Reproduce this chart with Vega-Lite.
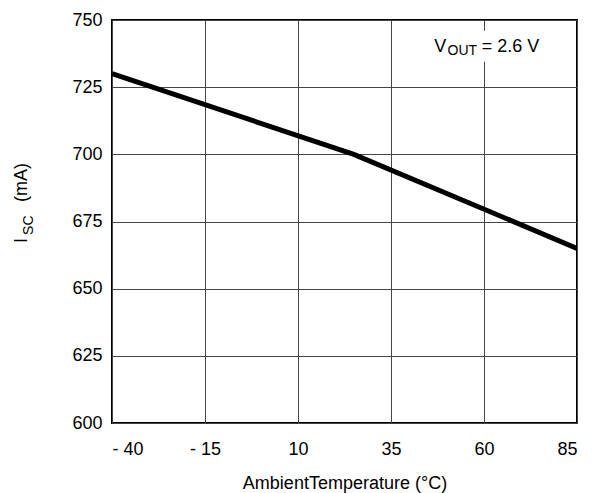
{
  "$schema": "https://vega.github.io/schema/vega-lite/v6.json",
  "autosize": "none",
  "width": 465,
  "height": 403,
  "padding": {"left": 112, "top": 20, "right": 23, "bottom": 70},
  "background": "white",
  "datasets": {
    "isc": [
      {"temp": -40, "isc": 730},
      {"temp": 25, "isc": 700},
      {"temp": 85, "isc": 665}
    ],
    "labelBox": [
      {"x1": 45, "x2": 75, "y1": 734.5, "y2": 746}
    ],
    "mainText": [
      {"temp": 46.6, "isc": 738.2, "text": "V"},
      {"temp": 59.4, "isc": 738.2, "text": "= 2.6 V"}
    ],
    "subText": [
      {"temp": 50.2, "isc": 737.0, "text": "OUT"}
    ],
    "yTitleMain": [
      {"temp": -62.85, "isc": 667.0, "text": "I"},
      {"temp": -62.85, "isc": 682.3, "text": "(mA)"}
    ],
    "yTitleSub": [
      {"temp": -61.24, "isc": 670.0, "text": "SC"}
    ]
  },
  "config": {
    "font": "Liberation Sans",
    "view": {"stroke": "black", "strokeWidth": 2},
    "axis": {
      "domain": false,
      "ticks": false,
      "grid": true,
      "gridColor": "#444444",
      "gridWidth": 1,
      "gridOpacity": 1,
      "labelFont": "Liberation Sans",
      "labelFontSize": 18,
      "labelColor": "black",
      "titleFont": "Liberation Sans",
      "titleFontSize": 18,
      "titleFontWeight": "normal",
      "titleColor": "black"
    }
  },
  "layer": [
    {
      "data": {"name": "labelBox"},
      "mark": {"type": "rect", "fill": "white", "stroke": null},
      "encoding": {
        "x": {"field": "x1", "type": "quantitative"},
        "x2": {"field": "x2"},
        "y": {"field": "y1", "type": "quantitative"},
        "y2": {"field": "y2"}
      }
    },
    {
      "data": {"name": "isc"},
      "mark": {"type": "line", "color": "black", "strokeWidth": 5, "strokeJoin": "miter", "clip": true},
      "encoding": {
        "x": {
          "field": "temp",
          "type": "quantitative",
          "scale": {"domain": [-40, 85], "nice": false, "zero": false},
          "axis": {
            "values": [-40, -15, 10, 35, 60, 85],
            "labelExpr": "datum.value < 0 ? '- ' + abs(datum.value) : datum.label",
            "labelPadding": 17,
            "title": "AmbientTemperature (°C)",
            "titlePadding": 16
          }
        },
        "y": {
          "field": "isc",
          "type": "quantitative",
          "scale": {"domain": [600, 750], "nice": false, "zero": false},
          "axis": {
            "values": [600, 625, 650, 675, 700, 725, 750],
            "labelPadding": 10,
            "title": null
          }
        }
      }
    },
    {
      "data": {"name": "mainText"},
      "mark": {"type": "text", "fontSize": 18, "align": "left", "baseline": "alphabetic", "color": "black"},
      "encoding": {
        "x": {"field": "temp", "type": "quantitative"},
        "y": {"field": "isc", "type": "quantitative"},
        "text": {"field": "text"}
      }
    },
    {
      "data": {"name": "subText"},
      "mark": {"type": "text", "fontSize": 14, "align": "left", "baseline": "alphabetic", "color": "black"},
      "encoding": {
        "x": {"field": "temp", "type": "quantitative"},
        "y": {"field": "isc", "type": "quantitative"},
        "text": {"field": "text"}
      }
    },
    {
      "data": {"name": "yTitleMain"},
      "mark": {"type": "text", "fontSize": 18, "angle": 270, "align": "left", "baseline": "alphabetic", "color": "black", "clip": false},
      "encoding": {
        "x": {"field": "temp", "type": "quantitative"},
        "y": {"field": "isc", "type": "quantitative"},
        "text": {"field": "text"}
      }
    },
    {
      "data": {"name": "yTitleSub"},
      "mark": {"type": "text", "fontSize": 14, "angle": 270, "align": "left", "baseline": "alphabetic", "color": "black", "clip": false},
      "encoding": {
        "x": {"field": "temp", "type": "quantitative"},
        "y": {"field": "isc", "type": "quantitative"},
        "text": {"field": "text"}
      }
    }
  ]
}
